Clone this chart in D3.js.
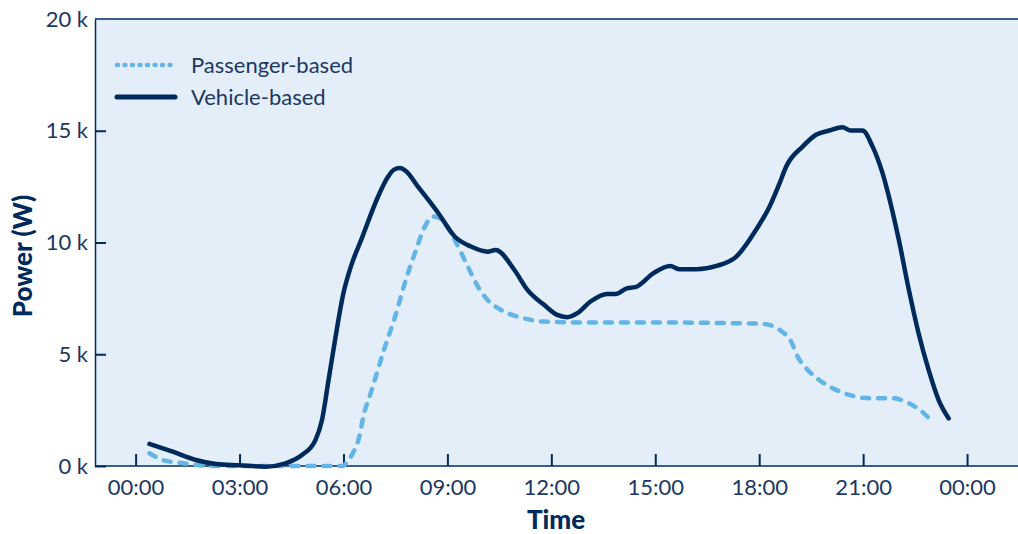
<!DOCTYPE html>
<html>
<head>
<meta charset="utf-8">
<script src="https://cdn.jsdelivr.net/npm/d3@7"></script>
<style>
  body { margin: 0; background: #fff; }
  svg { display: block; font-family: Lato, "Open Sans", sans-serif; }
</style>
</head>
<body>
<svg></svg>
<script>
var WIDTH = 1018;
var HEIGHT = 534;

// hours of day -> watts
var passengerHours = [0.40, 0.78, 1.26, 1.74, 2.32, 3.5, 4.5, 5.95, 6.24, 6.43, 6.62, 6.72, 7.2, 7.49, 7.77, 8.06, 8.35, 8.58, 8.78, 9.21, 9.59, 9.88, 10.16, 10.55, 11.21, 11.79, 13.12, 15.0, 17.34, 18.11, 18.59, 18.92, 19.11, 19.40, 19.73, 20.12, 20.60, 21.17, 21.84, 22.32, 22.70, 22.99];
var passengerPower = [570, 270, 150, 45, 0, 0, 0, 0, 490, 1160, 2500, 2950, 5340, 6680, 8180, 9520, 10710, 11160, 11090, 10120, 8920, 8030, 7430, 6980, 6610, 6460, 6420, 6420, 6390, 6360, 6090, 5570, 4890, 4300, 3850, 3480, 3180, 3030, 3030, 2810, 2430, 1980];

var vehicleHours = [0.40, 1.07, 1.74, 2.32, 2.99, 3.75, 4.33, 4.80, 5.19, 5.38, 5.57, 5.71, 6.0, 6.23, 6.52, 7.0, 7.29, 7.45, 7.63, 7.8, 8.15, 8.73, 9.21, 9.68, 10.16, 10.39, 10.93, 11.31, 11.79, 12.17, 12.46, 12.75, 13.13, 13.61, 13.85, 14.18, 14.42, 14.95, 15.43, 15.71, 16.19, 16.77, 17.34, 17.91, 18.30, 18.59, 18.78, 19.26, 19.64, 20.02, 20.40, 20.64, 20.98, 21.27, 21.56, 21.79, 22.03, 22.32, 22.60, 22.89, 23.18, 23.47];
var vehiclePower = [990, 640, 270, 90, 30, -30, 120, 490, 1160, 2060, 3850, 5190, 7740, 9000, 10150, 12060, 12950, 13250, 13330, 13200, 12500, 11330, 10270, 9820, 9590, 9670, 8780, 7880, 7210, 6760, 6660, 6840, 7360, 7700, 7700, 7950, 8000, 8630, 8950, 8800, 8800, 8950, 9370, 10570, 11610, 12660, 13400, 14300, 14820, 15010, 15160, 15010, 15010, 14300, 13100, 11760, 10120, 7880, 5940, 4300, 2950, 2130];

var xTicks = [0, 3, 6, 9, 12, 15, 18, 21, 24];
var xTickLabels = ['00:00', '03:00', '06:00', '09:00', '12:00', '15:00', '18:00', '21:00', '00:00'];
var yTicks = [0, 5000, 10000, 15000, 20000];
var seriesNames = ['Passenger-based', 'Vehicle-based'];

var NAVY = '#002a5c';
var LIGHT = '#62b5e5';
var TEXT = '#1c3763';

var plotLeft = 95, plotRight = 1018, plotTop = 19, plotBottom = 466;

var svg = d3.select('svg')
  .attr('width', WIDTH)
  .attr('height', HEIGHT);

var xScale = d3.scaleLinear().domain([-1.172, 25.47]).range([plotLeft, plotRight]);
var yScale = d3.scaleLinear().domain([0, 20000]).range([plotBottom, plotTop]);

svg.append('rect')
  .attr('x', plotLeft).attr('y', plotTop)
  .attr('width', plotRight - plotLeft).attr('height', plotBottom - plotTop)
  .attr('fill', '#e3eef9');

svg.append('line')
  .attr('x1', plotLeft).attr('x2', plotRight)
  .attr('y1', plotTop).attr('y2', plotTop)
  .attr('stroke', NAVY).attr('stroke-width', 1.5);

var xAxis = svg.append('g')
  .attr('transform', 'translate(0,' + plotBottom + ')')
  .call(d3.axisBottom(xScale)
    .tickValues(xTicks)
    .tickFormat(function(d, i){ return xTickLabels[i]; })
    .tickSizeInner(-12).tickSizeOuter(0).tickPadding(13));

var yAxis = svg.append('g')
  .attr('transform', 'translate(' + plotLeft + ',0)')
  .call(d3.axisLeft(yScale)
    .tickValues(yTicks)
    .tickFormat(function(d){ return (d / 1000) + ' k'; })
    .tickSizeInner(-11).tickSizeOuter(0).tickPadding(7));

[xAxis, yAxis].forEach(function(g){
  g.select('.domain').attr('stroke', NAVY).attr('stroke-width', 1.5);
  g.selectAll('.tick line').attr('stroke', NAVY).attr('stroke-width', 2);
  g.selectAll('.tick text')
    .attr('fill', TEXT)
    .style('font-size', '22px')
    .style('font-family', 'Lato, sans-serif');
});
// the top tick sits on the frame, no mark needed
yAxis.selectAll('.tick').filter(function(d){ return d === 20000; }).select('line').remove();
// stretch the bottom line to the page edge
xAxis.select('.domain').attr('d', 'M' + plotLeft + ',0H' + plotRight);

var line = d3.line()
  .x(function(d){ return xScale(d[0]); })
  .y(function(d){ return yScale(d[1]); })
  .curve(d3.curveMonotoneX);

svg.append('path')
  .datum(d3.zip(passengerHours, passengerPower))
  .attr('d', line)
  .attr('fill', 'none')
  .attr('stroke', LIGHT)
  .attr('stroke-width', 4.5)
  .attr('stroke-linecap', 'round')
  .attr('stroke-dasharray', '7,9');

svg.append('path')
  .datum(d3.zip(vehicleHours, vehiclePower))
  .attr('d', line)
  .attr('fill', 'none')
  .attr('stroke', NAVY)
  .attr('stroke-width', 4.5)
  .attr('stroke-linejoin', 'round')
  .attr('stroke-linecap', 'round');

// legend
var legend = svg.append('g');
seriesNames.forEach(function(name, i){
  var ly = 65 + i * 32;
  legend.append('line')
    .attr('x1', 117).attr('x2', 175)
    .attr('y1', ly).attr('y2', ly)
    .attr('stroke', i === 0 ? LIGHT : NAVY)
    .attr('stroke-width', i === 0 ? 4.5 : 5)
    .attr('stroke-linecap', 'round')
    .attr('stroke-dasharray', i === 0 ? '1,6.5' : null);
  legend.append('text')
    .attr('x', 191).attr('y', ly + 8)
    .attr('fill', TEXT)
    .style('font-size', '22px')
    .text(name);
});

svg.append('text')
  .attr('x', 556).attr('y', 529)
  .attr('text-anchor', 'middle')
  .attr('fill', NAVY)
  .style('font-size', '26px')
  .style('font-weight', 900)
  .text('Time');

svg.append('text')
  .attr('transform', 'translate(32,256) rotate(-90)')
  .attr('text-anchor', 'middle')
  .attr('fill', NAVY)
  .style('font-size', '26px')
  .style('font-weight', 900)
  .text('Power (W)');
</script>
</body>
</html>
